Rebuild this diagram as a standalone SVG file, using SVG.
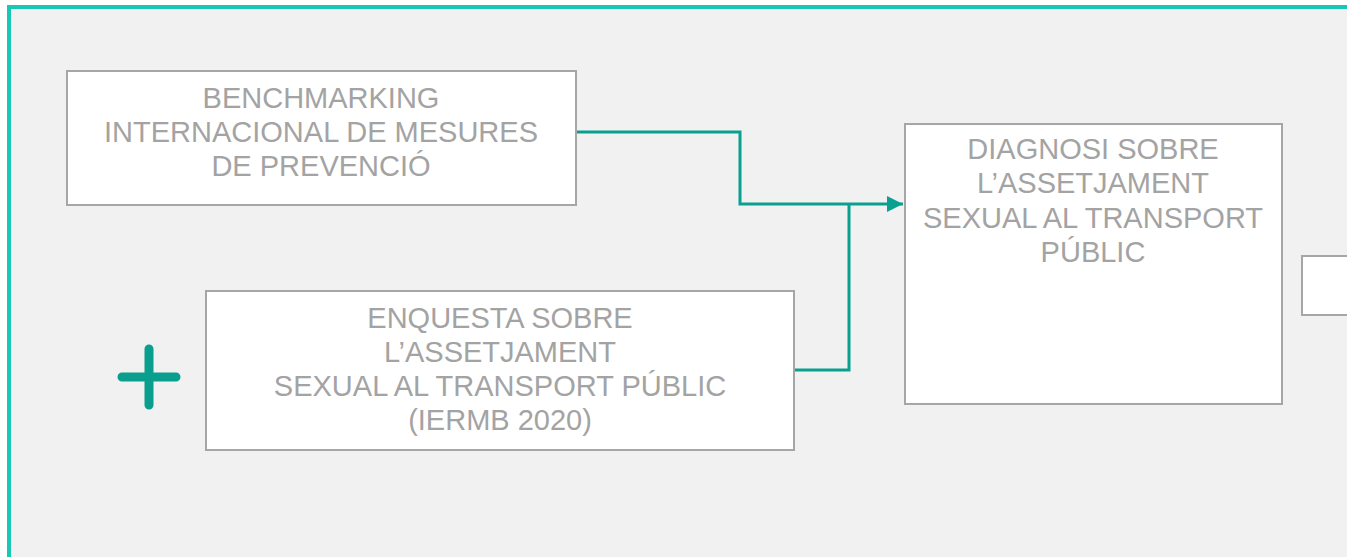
<svg xmlns="http://www.w3.org/2000/svg" width="1347" height="557" viewBox="0 0 1347 557">
<defs>
<style>
.box{fill:#ffffff;stroke:#a6a6a6;stroke-width:2}
.t{font-family:"Liberation Sans",Arial,sans-serif;font-size:29px;fill:#a3a3a3;text-anchor:middle}
.c{fill:none;stroke:#0aa08f;stroke-width:3}
</style>
<marker id="arr" viewBox="0 0 10 10" refX="10" refY="5" markerWidth="16" markerHeight="16" markerUnits="userSpaceOnUse" orient="auto">
<path d="M0,0 L10,5 L0,10 z" fill="#0aa08f"/>
</marker>
</defs>
<rect x="0" y="0" width="1347" height="557" fill="#ffffff"/>
<rect x="9" y="7" width="1345" height="560" fill="#f1f1f1" stroke="#18c8b6" stroke-width="4"/>
<g id="connectors">
<path class="c" d="M576,132 H740 V204 H903" marker-end="url(#arr)"/>
<path class="c" d="M794,370 H849 V204"/>
</g>
<g id="benchmarking">
<rect class="box" x="67" y="71" width="509" height="134"/>
<text class="t" x="321" y="108">BENCHMARKING</text>
<text class="t" x="321" y="142">INTERNACIONAL DE MESURES</text>
<text class="t" x="321" y="176">DE PREVENCIÓ</text>
</g>
<g id="enquesta">
<rect class="box" x="206" y="291" width="588" height="159"/>
<text class="t" x="500" y="328">ENQUESTA SOBRE</text>
<text class="t" x="500" y="362">L’ASSETJAMENT</text>
<text class="t" x="500" y="396">SEXUAL AL TRANSPORT PÚBLIC</text>
<text class="t" x="500" y="430">(IERMB 2020)</text>
</g>
<g id="plus">
<path d="M149,349 V405 M122,377 H176" stroke="#0a9e8e" stroke-width="9" stroke-linecap="round" fill="none"/>
</g>
<g id="diagnosi">
<rect class="box" x="905" y="124" width="377" height="280"/>
<text class="t" x="1093" y="159">DIAGNOSI SOBRE</text>
<text class="t" x="1093" y="193">L’ASSETJAMENT</text>
<text class="t" x="1093" y="228">SEXUAL AL TRANSPORT</text>
<text class="t" x="1093" y="262">PÚBLIC</text>
</g>
<g id="next">
<rect class="box" x="1302" y="256" width="60" height="59"/>
</g>
</svg>
